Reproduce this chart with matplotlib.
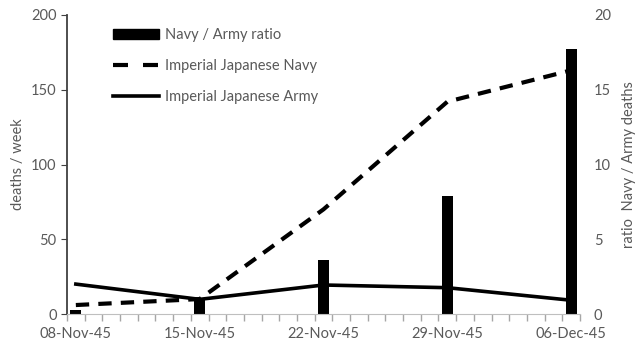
import matplotlib

matplotlib.use("Agg")

import matplotlib.pyplot as plt  # noqa: E402
from matplotlib.lines import Line2D  # noqa: E402
from matplotlib.patches import Patch  # noqa: E402

# Weekly deaths, one point per week (day offsets from 08-Nov-45)
days = [0, 7, 14, 21, 28]
week_labels = ["08-Nov-45", "15-Nov-45", "22-Nov-45", "29-Nov-45", "06-Dec-45"]
navy_deaths = [6, 10, 70, 142, 163]
army_deaths = [20, 9.8, 19.4, 17.6, 9.2]
navy_army_ratio = [0.3, 1.0, 3.6, 7.9, 17.7]

GREY = "#595959"
plt.rcParams["font.family"] = ["Lato", "DejaVu Sans"]
plt.rcParams["font.size"] = 10.5

fig = plt.figure(figsize=(6.36, 3.45), dpi=100)
ax = fig.add_axes([67 / 636, 1 - 314 / 345, (580 - 67) / 636, (314 - 15) / 345])
ax2 = ax.twinx()

# bars on the ratio axis, lines drawn above them
ax2.bar(days, navy_army_ratio, width=0.63, color="black", zorder=1)
ax.set_zorder(ax2.get_zorder() + 1)
ax.patch.set_visible(False)
ax.plot(days, navy_deaths, color="black", lw=3, ls=(0, (3.2, 2.2)), solid_capstyle="butt")
ax.plot(days, army_deaths, color="black", lw=2.6)

ax.set_xlim(-0.5, 28.5)
ax.set_ylim(0, 200)
ax2.set_ylim(0, 20)
ax.set_xticks(days)
ax.set_xticklabels(week_labels)
ax.set_xticks([d - 0.5 for d in range(30)], minor=True)
ax.set_yticks(range(0, 201, 50))
ax2.set_yticks(range(0, 21, 5))

ax.tick_params(axis="x", which="major", length=0, labelcolor=GREY, pad=9)
ax.tick_params(axis="x", which="minor", length=5, width=1, color="#a6a6a6", direction="out")
ax.tick_params(axis="y", length=4, color="#404040", labelcolor=GREY)
ax2.tick_params(axis="y", length=0, labelcolor=GREY, pad=10)

for side in ("top", "right"):
    ax.spines[side].set_visible(False)
for side in ("top", "right", "left", "bottom"):
    ax2.spines[side].set_visible(False)
ax.spines["left"].set_color("#404040")
ax.spines["left"].set_linewidth(1.3)
ax.spines["bottom"].set_color("#bfbfbf")

ax.set_ylabel("deaths / week", color=GREY, labelpad=4)
ax2.set_ylabel("ratio  Navy / Army deaths", color=GREY, labelpad=8)

handles = [
    Patch(facecolor="black", edgecolor="black"),
    Line2D([], [], color="black", lw=3, ls=(0, (3.6, 3.6))),
    Line2D([], [], color="black", lw=2.6),
]
labels = ["Navy / Army ratio", "Imperial Japanese Navy", "Imperial Japanese Army"]
ax.legend(
    handles, labels, loc="upper left", bbox_to_anchor=(0.065, 1.0),
    frameon=False, handlelength=3.1, handleheight=0.6, labelspacing=1.15,
    handletextpad=0.4, labelcolor=GREY,
)

fig.savefig("out.png", dpi=100)
